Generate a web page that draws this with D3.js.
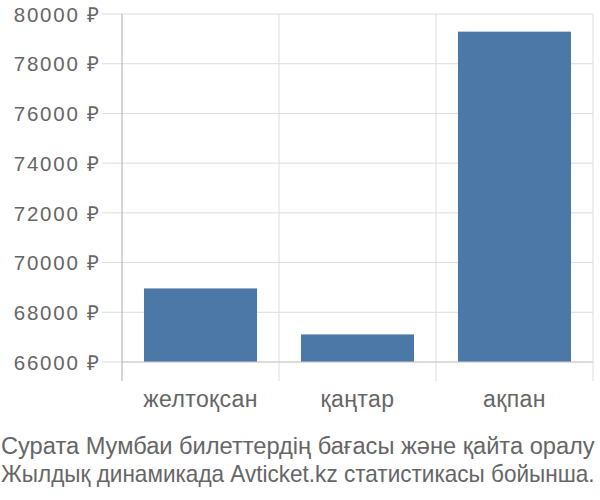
<!DOCTYPE html>
<html>
<head>
<meta charset="utf-8">
<script src="https://cdn.jsdelivr.net/npm/d3@7"></script>
<style>
  body { margin: 0; background: #fff; }
  svg text { font-family: "Liberation Sans", Arial, sans-serif; fill: #666; }
</style>
</head>
<body>
<svg id="chart" width="600" height="500"></svg>
<script>
// data
const categories = ["желтоқсан", "қаңтар", "ақпан"];
const prices = [68960, 67110, 79290];
const yTicks = [66000, 68000, 70000, 72000, 74000, 76000, 78000, 80000];
const captionLines = [
  "Сурата Мумбаи билеттердің бағасы және қайта оралу",
  "Жылдық динамикада Avticket.kz статистикасы бойынша."
];

const svg = d3.select("#chart"),
  margin = { top: 14, right: 7, bottom: 138, left: 122 },
  width = +svg.attr("width") - margin.left - margin.right,
  height = +svg.attr("height") - margin.top - margin.bottom;

const x = d3
    .scaleBand()
    .domain(categories)
    .range([0, width])
    .paddingInner(0.28)
    .paddingOuter(0.14),
  y = d3.scaleLinear().domain([66000, 80000]).range([height, 0]);

const g = svg
  .append("g")
  .attr("transform", `translate(${margin.left},${margin.top})`);

// horizontal grid
g.append("g")
  .selectAll("line")
  .data(yTicks)
  .enter()
  .append("line")
  .attr("x1", -20)
  .attr("x2", width)
  .attr("y1", d => y(d))
  .attr("y2", d => y(d))
  .attr("stroke", "#ddd");

// vertical grid on band edges
const edges = categories.map(c => x(c) - x.step() * x.paddingInner() / 2).concat([width]);
g.append("g")
  .selectAll("line")
  .data(edges.slice(1))
  .enter()
  .append("line")
  .attr("x1", d => d)
  .attr("x2", d => d)
  .attr("y1", 0)
  .attr("y2", height + 19)
  .attr("stroke", "#ddd");

// bars
g.selectAll(".bar")
  .data(prices)
  .enter()
  .append("rect")
  .attr("class", "bar")
  .attr("x", (d, i) => x(categories[i]))
  .attr("y", d => y(d))
  .attr("width", x.bandwidth())
  .attr("height", d => height - y(d))
  .attr("fill", "#4c78a8");

// x baseline
g.append("line")
  .attr("x1", 0)
  .attr("x2", width)
  .attr("y1", height)
  .attr("y2", height)
  .attr("stroke", "#ccc");

// y axis
const yAxis = g.append("g")
  .call(d3.axisLeft(y).tickValues(yTicks).tickSize(0).tickPadding(21).tickFormat(d => d + " ₽"));
yAxis.select(".domain").remove();
yAxis.selectAll("text")
  .attr("font-size", 20.5)
  .attr("letter-spacing", 1.8)
  .attr("font-family", null)
  .attr("fill", null)
  .attr("dy", "0.35em");

g.append("line")
  .attr("x1", 0)
  .attr("x2", 0)
  .attr("y1", 0)
  .attr("y2", height + 19)
  .attr("stroke", "#aaa");

// x labels
const xAxis = g.append("g")
  .attr("transform", `translate(0,${height})`)
  .call(d3.axisBottom(x).tickSize(0));
xAxis.select(".domain").remove();
xAxis.selectAll("text")
  .attr("font-size", 23)
  .attr("letter-spacing", 0.4)
  .attr("y", 44.5)
  .attr("dy", 0)
  .attr("font-family", null)
  .attr("fill", null);

// caption, each line squeezed to the full width like the reference
svg.append("g")
  .selectAll("text")
  .data(captionLines)
  .enter()
  .append("text")
  .attr("font-size", 23)
  .text(d => d)
  .attr("transform", function(d, i) {
    const k = 594 / this.getComputedTextLength();
    return `translate(1,${454 + i * 28}) scale(${k},1)`;
  });
</script>
</body>
</html>
